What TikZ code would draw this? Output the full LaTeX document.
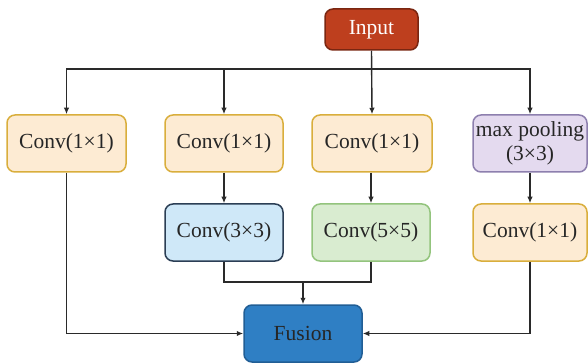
\documentclass[tikz,border=0pt]{standalone}
\usepackage{fontspec}
\setmainfont{Liberation Serif}
\usetikzlibrary{arrows.meta}
\definecolor{cfill}{HTML}{FDEBD3}
\definecolor{cdraw}{HTML}{D9AE3C}
\definecolor{bfill}{HTML}{CFE8F8}
\definecolor{bdraw}{HTML}{2B3E55}
\definecolor{gfill}{HTML}{D9ECD0}
\definecolor{gdraw}{HTML}{93C47D}
\definecolor{pfill}{HTML}{E4DAEF}
\definecolor{pdraw}{HTML}{8D7FAE}
\definecolor{ffill}{HTML}{2F7FC4}
\definecolor{fdraw}{HTML}{215E95}
\definecolor{ifill}{HTML}{BE3F1E}
\definecolor{idraw}{HTML}{7A2611}
\definecolor{lin}{HTML}{2A2A2A}
\tikzset{
  box/.style={rounded corners=8pt, line width=1.5pt, minimum height=57pt, inner sep=1pt,
    align=center, font=\fontsize{21.5}{24}\selectfont, text=black!85},
  convbox/.style={box, fill=cfill, draw=cdraw},
  bluebox/.style={box, fill=bfill, draw=bdraw},
  greenbox/.style={box, fill=gfill, draw=gdraw},
  poolbox/.style={box, fill=pfill, draw=pdraw},
  fusionbox/.style={box, fill=ffill, draw=fdraw, text=black!85},
  inputbox/.style={box, fill=ifill, draw=idraw, text=white, minimum height=41pt, minimum width=93pt},
  arr/.style={draw=lin, line width=1.4pt, -{Latex[length=6.5pt,width=5.5pt]}},
  ln/.style={draw=lin, line width=1.4pt}
}
\begin{document}
\begin{tikzpicture}[x=1pt,y=-1pt]
\useasboundingbox (0,0) rectangle (588,363);
\node[inputbox] (input) at (371.5,29.5) {Input};
\node[convbox, minimum width=119pt] (b1) at (66.5,143.5) {Conv(1×1)};
\node[convbox, minimum width=118pt] (b2) at (224,143.5) {Conv(1×1)};
\node[convbox, minimum width=120pt] (b3) at (372,143.5) {Conv(1×1)};
\node[poolbox, minimum width=114pt] (b4) at (530,143.5) {max pooling\\(3×3)};
\node[bluebox, minimum width=118pt] (c33) at (224,232.5) {Conv(3×3)};
\node[greenbox, minimum width=118pt] (c55) at (371,232.5) {Conv(5×5)};
\node[convbox, minimum width=114pt] (c11) at (530,232.5) {Conv(1×1)};
\node[fusionbox, minimum width=118pt] (fusion) at (303,333.5) {Fusion};
\coordinate (bus) at (372,69);
\coordinate (mrg) at (303,282);
% top distribution
\draw[arr] (input.south) -- (b3.north);
\draw[arr] (bus) -| (b1.north);
\draw[arr] (bus) -| (b4.north);
\draw[arr] (b2.north |- bus) -- (b2.north);
% second row
\draw[arr] (b2.south) -- (c33.north);
\draw[arr] (b3.south -| c55.north) -- (c55.north);
\draw[arr] (b4.south) -- (c11.north);
% merge
\draw[ln] (c33.south) |- (mrg);
\draw[ln] (c55.south) |- (mrg);
\draw[arr] (mrg) -- (fusion.north);
\draw[arr] (b1.south) |- (fusion.west);
\draw[arr] (c11.south) |- (fusion.east);
\end{tikzpicture}
\end{document}
